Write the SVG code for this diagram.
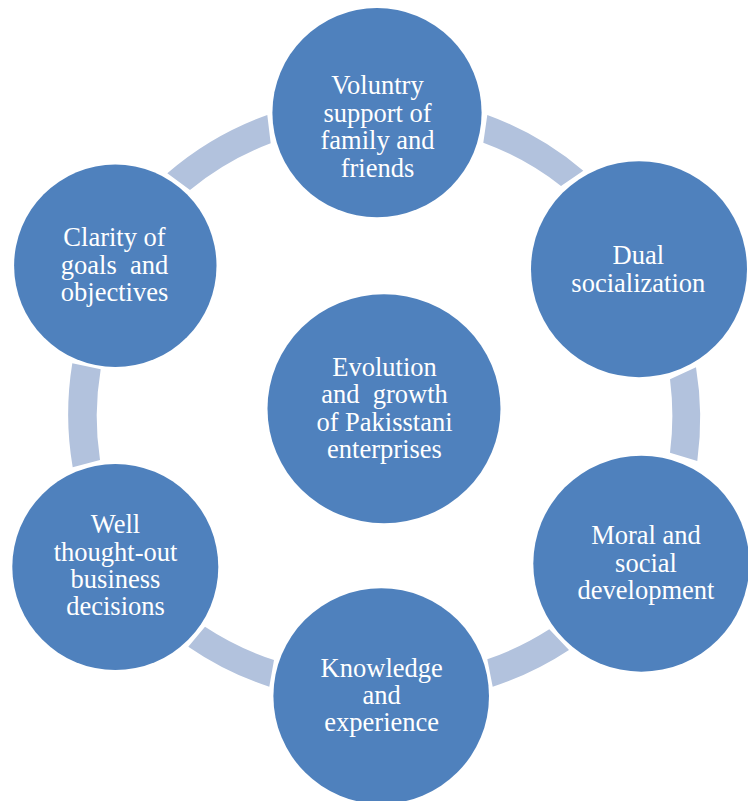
<svg xmlns="http://www.w3.org/2000/svg" width="748" height="801" viewBox="0 0 748 801">
  <style>
    .node { fill: #4f81bd; }
    .link { fill: #b2c2dd; stroke: none; }
    .label { fill: #ffffff; font-family: "Liberation Serif", "Times New Roman", serif; font-size: 26.5px; text-anchor: middle; }
  </style>
  <rect x="0" y="0" width="748" height="801" fill="#ffffff"/>

  <!-- ring segments between the outer circles -->
  <g id="connectors">
    <path class="link" d="M167.3,173.3 A314,314 0 0 1 267.3,115 L270.7,143.3 A286,286 0 0 0 190,190 Z"/>
    <path class="link" d="M487.3,115 A314,314 0 0 1 583.3,170.7 L561,186 A286,286 0 0 0 483.3,142.7 Z"/>
    <path class="link" d="M696,367.3 A314,314 0 0 1 697.3,461 L670,452.7 A286,286 0 0 0 670,379.3 Z"/>
    <path class="link" d="M569,650 A314,314 0 0 1 492.7,686.7 L487.3,659.3 A286,286 0 0 0 549.3,629.3 Z"/>
    <path class="link" d="M269.3,686.7 A314,314 0 0 1 188.3,646.7 L205,626.7 A286,286 0 0 0 274,660 Z"/>
    <path class="link" d="M72.7,467.3 A314,314 0 0 1 72.3,363.3 L100.7,369.3 A286,286 0 0 0 100,460 Z"/>
  </g>

  <g id="node-center">
    <ellipse class="node" cx="384" cy="408.8" rx="116.5" ry="114.5"/>
    <text class="label" xml:space="preserve"><tspan x="384.5" y="375.7">Evolution</tspan><tspan x="384.5" y="403.1">and  growth</tspan><tspan x="384.5" y="430.5">of Pakisstani</tspan><tspan x="384.5" y="457.9">enterprises</tspan></text>
  </g>

  <g id="node-support">
    <circle class="node" cx="377" cy="112.7" r="104.6"/>
    <text class="label"><tspan x="377.5" y="94.3">Voluntry</tspan><tspan x="377.5" y="121.7">support of</tspan><tspan x="377.5" y="149.1">family and</tspan><tspan x="377.5" y="176.5">friends</tspan></text>
  </g>

  <g id="node-dual">
    <circle class="node" cx="639" cy="269.2" r="108"/>
    <text class="label"><tspan x="638.3" y="264.3">Dual</tspan><tspan x="638.3" y="291.7">socialization</tspan></text>
  </g>

  <g id="node-moral">
    <circle class="node" cx="641.3" cy="563.7" r="108"/>
    <text class="label"><tspan x="646" y="544.3">Moral and</tspan><tspan x="646" y="571.7">social</tspan><tspan x="646" y="599">development</tspan></text>
  </g>

  <g id="node-knowledge">
    <circle class="node" cx="381.2" cy="696.1" r="107.8"/>
    <text class="label"><tspan x="381.7" y="676.8">Knowledge</tspan><tspan x="381.7" y="703.8">and</tspan><tspan x="381.7" y="730.8">experience</tspan></text>
  </g>

  <g id="node-decisions">
    <circle class="node" cx="115.3" cy="567" r="103"/>
    <text class="label"><tspan x="115.5" y="533.3">Well</tspan><tspan x="115.5" y="560.5">thought-out</tspan><tspan x="115.5" y="587.8">business</tspan><tspan x="115.5" y="615">decisions</tspan></text>
  </g>

  <g id="node-clarity">
    <circle class="node" cx="115.3" cy="265.8" r="101.2"/>
    <text class="label" xml:space="preserve"><tspan x="114.5" y="246.4">Clarity of</tspan><tspan x="114.5" y="273.8">goals  and</tspan><tspan x="114.5" y="301.2">objectives</tspan></text>
  </g>
</svg>
